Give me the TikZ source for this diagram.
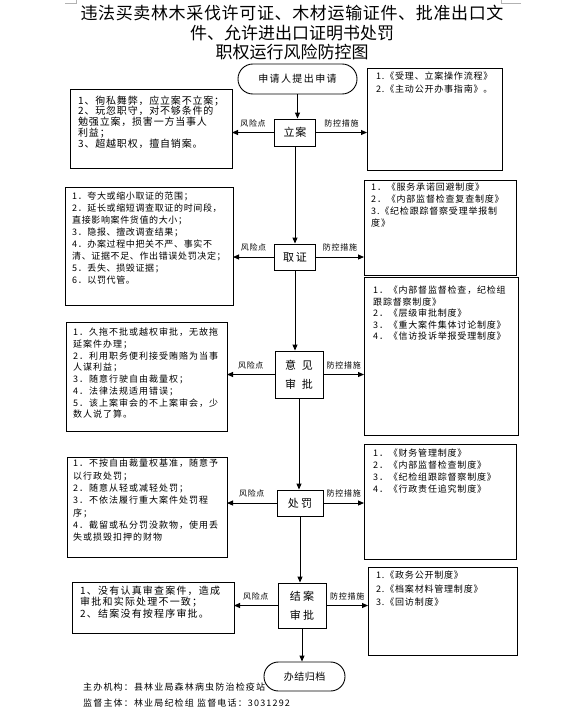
\documentclass[tikz,border=0pt]{standalone}
\usepackage{fontspec}
\setmainfont{Noto Sans CJK SC}
\usetikzlibrary{arrows.meta}
\newcommand{\myfs}[3]{\fontsize{#1}{#2}\selectfont\addfontfeature{LetterSpace=#3}}
\begin{document}
\begin{tikzpicture}[x=1pt,y=-1pt,
  frame/.style={draw, line width=0.9pt, anchor=north west, inner sep=0pt, outer sep=0pt},
  txt/.style={anchor=north west, inner sep=0pt, align=left},
  stepnode/.style={draw, line width=0.9pt, inner sep=0pt, align=center},
  arr/.style={line width=0.9pt, -{Triangle[length=6pt,width=5pt]}},
  lab/.style={inner sep=1pt, above=4pt, font=\myfs{8}{9}{9}},
]
\fill[white] (0,0) rectangle (581,715);
\useasboundingbox (0,0) rectangle (581,715);
\draw[gray!60, line width=0.5pt] (65,3) -- (76,3) -- (76,0);
\draw[gray!60, line width=0.5pt] (521,3) -- (501,3) -- (501,0);

% title
\node[anchor=north, align=center, inner sep=0pt, font=\fontsize{17}{19.5}\selectfont] (title) at (292,5)
 {\makebox[423pt][s]{违\hfill 法\hfill 买\hfill 卖\hfill 林\hfill 木\hfill 采\hfill 伐\hfill 许\hfill 可\hfill 证\hfill 、\hfill 木\hfill 材\hfill 运\hfill 输\hfill 证\hfill 件\hfill 、\hfill 批\hfill 准\hfill 出\hfill 口\hfill 文}\\件、允许进出口证明书处罚\\职权运行风险防控图};

% flow nodes
\node[stepnode, rounded corners=14.9pt, minimum width=119pt, minimum height=30pt, font=\myfs{10}{12}{14}] (start) at (297.5,79) {申请人提出申请};
\node[stepnode, minimum width=41pt, minimum height=27pt, font=\myfs{11}{13}{6}] (lian) at (295,132.5) {立案};
\node[stepnode, minimum width=41pt, minimum height=26pt, font=\myfs{11}{13}{15}] (qu) at (295,257) {取证};
\node[stepnode, minimum width=48pt, minimum height=47pt, font=\myfs{11}{19}{8}] (yj) at (299,374.5) {意\hspace{6pt}见\\审\hspace{6pt}批};
\node[stepnode, minimum width=46pt, minimum height=26pt, font=\myfs{11}{13}{20}] (cf) at (300,503) {处罚};
\node[stepnode, minimum width=48pt, minimum height=45pt, font=\myfs{11}{19}{20}] (ja) at (302,605.5) {结案\\审批};
\node[stepnode, rounded corners=14.4pt, minimum width=81pt, minimum height=29pt, font=\myfs{10}{12}{5}] (end) at (304.5,676.5) {办结归档};

\draw[arr] (start.south) -- (start.south |- lian.north);
\draw[arr] (lian.south) -- (lian.south |- qu.north);
\draw[arr] (qu.south) -- (qu.south |- yj.north);
\draw[arr] (yj.south) -- (yj.south |- cf.north);
\draw[arr] (cf.south) -- (cf.south |- ja.north);
\draw[arr] (ja.south) -- (ja.south |- end.north);

% risk boxes
\node[frame, minimum width=162pt, minimum height=79pt] (r1) at (70,89) {};
\node[frame, minimum width=168pt, minimum height=118pt] (r2) at (65,187) {};
\node[frame, minimum width=161pt, minimum height=109pt] (r3) at (66,322) {};
\node[frame, minimum width=160pt, minimum height=100pt] (r4) at (67,457) {};
\node[frame, minimum width=162pt, minimum height=51pt] (r5) at (72,582) {};

% measure boxes
\node[frame, minimum width=135pt, minimum height=102pt] (m1) at (367,68) {};
\node[frame, minimum width=152pt, minimum height=95pt] (m2) at (364,180) {};
\node[frame, minimum width=154pt, minimum height=158pt] (m3) at (364,277) {};
\node[frame, minimum width=152pt, minimum height=115pt] (m4) at (364,444) {};
\node[frame, minimum width=149pt, minimum height=88pt] (m5) at (368,567) {};

% connectors
\draw[arr] (lian.west) -- (lian.west -| r1.east) node[midway, lab] (l1) {风险点};
\draw[arr] (lian.east) -- (lian.east -| m1.west) node[midway, lab] (c1) {防控措施};
\draw[arr] (qu.west) -- (qu.west -| r2.east) node[midway, lab] (l2) {风险点};
\draw[arr] (qu.east) -- (qu.east -| m2.west) node[midway, lab] (c2) {防控措施};
\draw[arr] (yj.west) -- (yj.west -| r3.east) node[midway, lab] (l3) {风险点};
\draw[arr] (yj.east) -- (yj.east -| m3.west) node[midway, lab] (c3) {防控措施};
\draw[arr] (cf.west) -- (cf.west -| r4.east) node[midway, lab] (l4) {风险点};
\draw[arr] (cf.east) -- (cf.east -| m4.west) node[midway, lab] (c4) {防控措施};
\draw[arr] (ja.west) -- (ja.west -| r5.east) node[midway, lab] (l5) {风险点};
\draw[arr] (ja.east) -- (ja.east -| m5.west) node[midway, lab] (c5) {防控措施};

% risk texts
\node[txt, font=\myfs{10}{10.8}{8}] (t1) at (78,95.5)
 {1、徇私舞弊，应立案不立案；\\2、玩忽职守，对不够条件的\\勉强立案，损害一方当事人\\利益；\\3、超越职权，擅自销案。};
\node[txt, font=\myfs{9}{11.9}{7}] (t2) at (72,192)
 {1．夸大或缩小取证的范围；\\2．延长或缩短调查取证的时间段，\\直接影响案件货值的大小；\\3．隐报、擅改调查结果；\\4．办案过程中把关不严、事实不\\清、证据不足、作出错误处罚决定；\\5．丢失、损毁证据；\\6．以罚代管。};
\node[txt, font=\myfs{9}{11.7}{11}] (t3) at (73,328)
 {1．久拖不批或越权审批，无故拖\\延案件办理；\\2．利用职务便利接受贿赂为当事\\人谋利益；\\3．随意行驶自由裁量权；\\4．法律法规适用错误；\\5．该上案审会的不上案审会，少\\数人说了算。};
\node[txt, font=\myfs{9}{12.3}{11}] (t4) at (73,459)
 {1．不按自由裁量权基准，随意予\\以行政处罚；\\2．随意从轻或减轻处罚；\\3．不依法履行重大案件处罚程\\序；\\4．截留或私分罚没款物，使用丢\\失或损毁扣押的财物};
\node[txt, font=\myfs{10}{11.5}{12}] (t5) at (80,585.5)
 {1、没有认真审查案件，造成\\审批和实际处理不一致；\\2、结案没有按程序审批。};

% measure texts
\node[txt, font=\myfs{9}{13}{9}] (tm1) at (376,72)
 {1.《受理、立案操作流程》\\2.《主动公开办事指南》。};
\node[txt, font=\myfs{9}{12}{9}] (tm2) at (371,183)
 {1．《服务承诺回避制度》\\2．《内部监督检查复查制度》\\3.《纪检跟踪督察受理举报制\\度》};
\node[txt, font=\myfs{9}{11.5}{9}] (tm3) at (373,286)
 {1．《内部督监督检查，纪检组\\跟踪督察制度》\\2．《层级审批制度》\\3．《重大案件集体讨论制度》\\4．《信访投诉举报受理制度》};
\node[txt, font=\myfs{9}{12}{9}] (tm4) at (373,449)
 {1．《财务管理制度》\\2．《内部监督检查制度》\\3．《纪检组跟踪督察制度》\\4．《行政责任追究制度》};
\node[txt, font=\myfs{9}{13.5}{9}] (tm5) at (376,571)
 {1.《政务公开制度》\\2.《档案材料管理制度》\\3.《回访制度》};

% footer
\node[txt, font=\myfs{9}{16}{13}] (foot) at (83,683)
 {主办机构：县林业局森林病虫防治检疫站\\监督主体：林业局纪检组 监督电话：3031292};
\end{tikzpicture}
\end{document}
